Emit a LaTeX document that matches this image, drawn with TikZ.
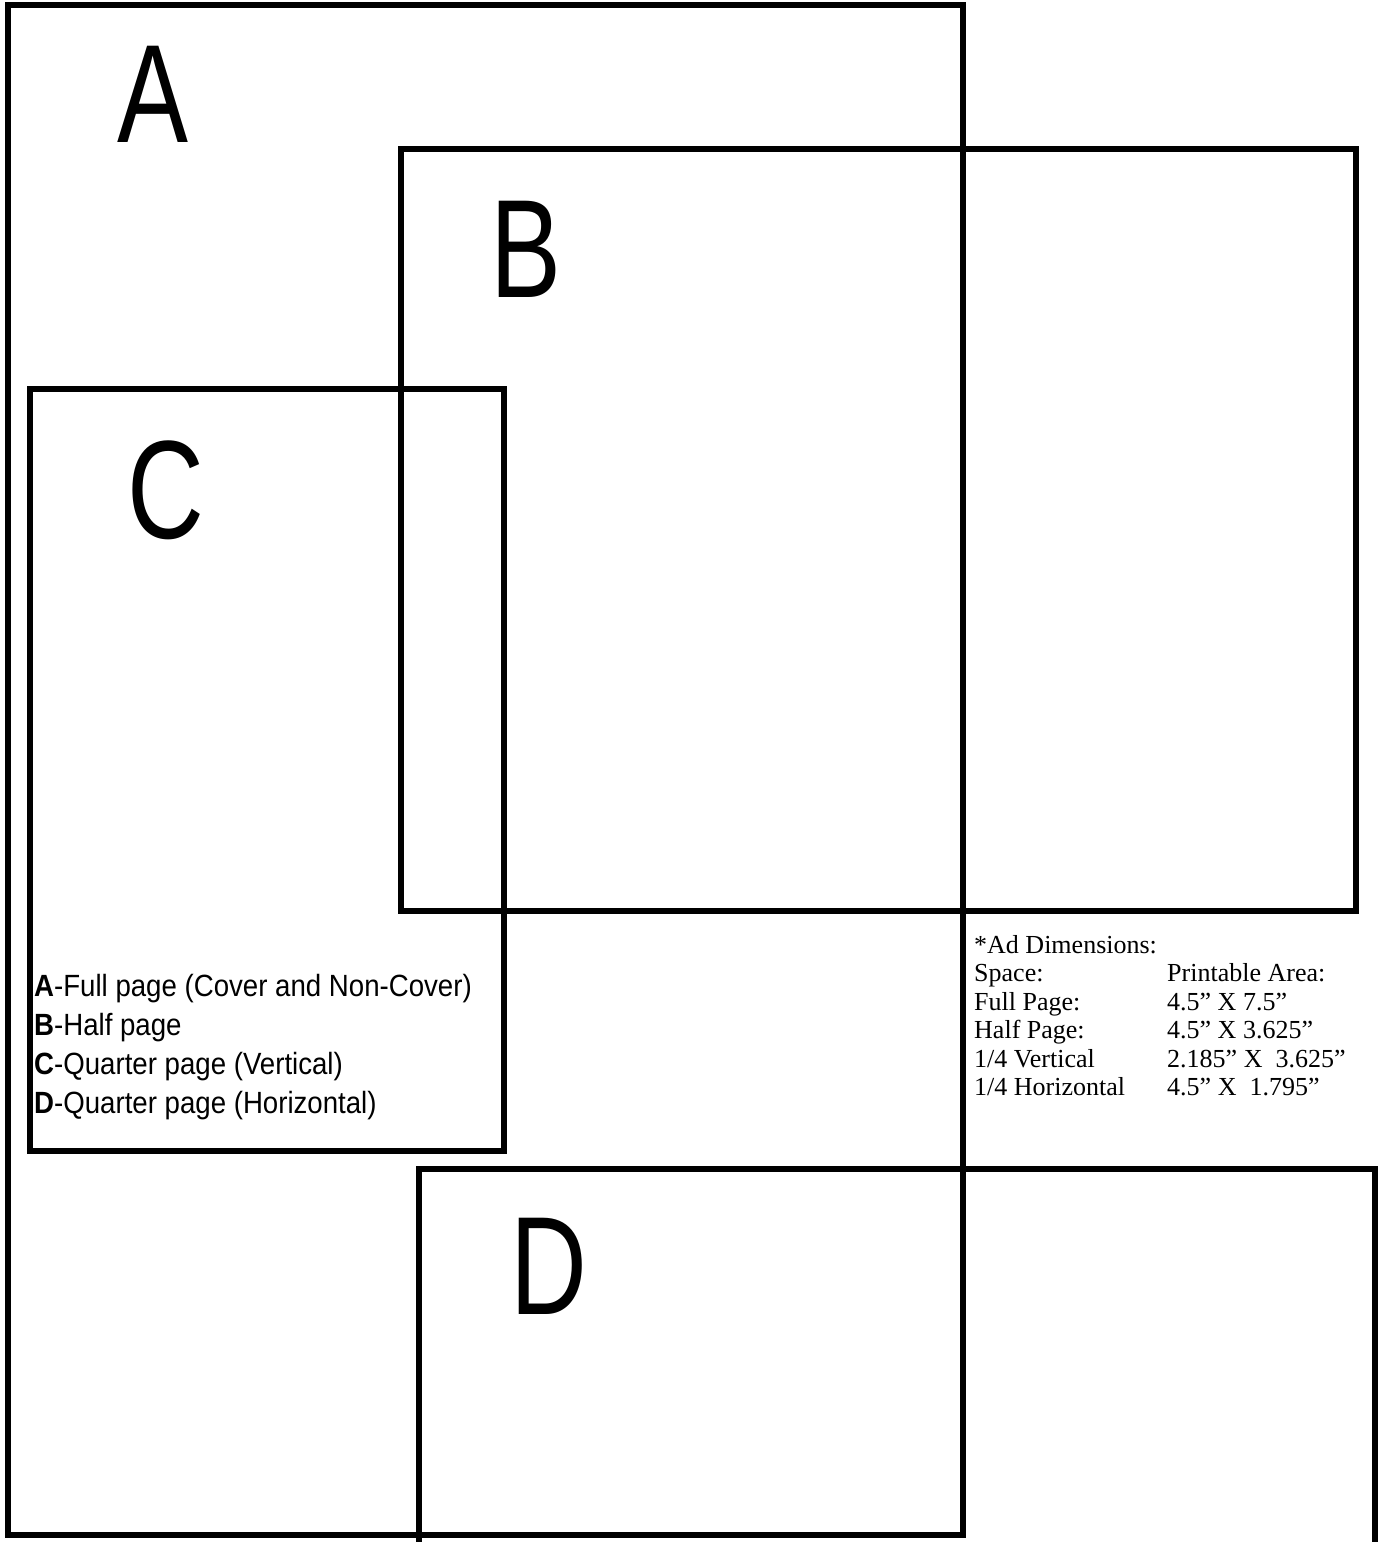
\documentclass[tikz,border=0pt]{standalone}
\usepackage{fontspec}
\setmainfont{Liberation Serif}
\newfontfamily\bigletter[FakeStretch=0.76]{Liberation Sans}
\newfontfamily\legendfont[FakeStretch=0.9]{Liberation Sans}
\usetikzlibrary{positioning}

\begin{document}
\begin{tikzpicture}[x=1pt,y=-1pt,
    panel/.style={line width=6pt, line join=miter},
    letter/.style={anchor=base, inner sep=0pt, font=\bigletter\fontsize{140}{140}\selectfont}]
    \useasboundingbox (0,0) rectangle (1384,1542);
    % ad spaces
    \draw[panel] (8,4.5) rectangle (963,1535);
    \draw[panel] (401,149) rectangle (1356,911);
    \draw[panel] (30,389) rectangle (504,1151);
    \draw[panel] (419,1546) -- (419,1169) -- (1375,1169) -- (1375,1546);
    \node[letter] (la) at (153,142) {A};
    \node[letter] (lb) at (526,297) {B};
    \node[letter] (lc) at (166,538) {C};
    \node[letter] (ld) at (549,1314) {D};
    % key
    \node[anchor=base west, inner sep=0pt, font=\legendfont\fontsize{30.7}{39}\selectfont] (key) at (34,996)
      {\begin{tabular}[t]{@{}l@{}}
        \textbf{A}-Full page (Cover and Non-Cover)\\
        \textbf{B}-Half page\\
        \textbf{C}-Quarter page (Vertical)\\
        \textbf{D}-Quarter page (Horizontal)
      \end{tabular}};
    \node[anchor=base west, inner sep=0pt, font=\fontsize{26}{28.5}\selectfont] (dims) at (974,953)
      {\begin{tabular}[t]{@{}p{193pt}@{}l@{}}
        *Ad Dimensions: & \\
        Space: & Printable Area:\\
        Full Page: & 4.5” X 7.5”\\
        Half Page: & 4.5” X 3.625”\\
        1/4 Vertical & 2.185” X~~3.625”\\
        1/4 Horizontal & 4.5” X~~1.795”
      \end{tabular}};
\end{tikzpicture}
\end{document}
